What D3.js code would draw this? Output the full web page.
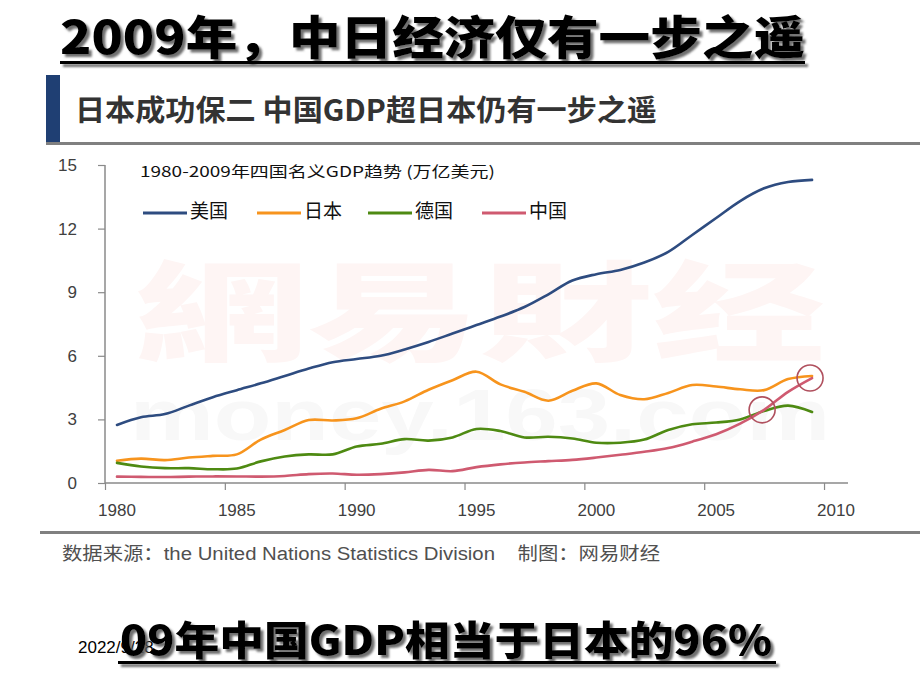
<!DOCTYPE html>
<html><head><meta charset="utf-8">
<script src="https://cdn.jsdelivr.net/npm/d3@7/dist/d3.min.js"></script>
<style>body{margin:0;background:#fff;}svg{display:block;}</style>
</head><body>
<svg id="c" width="920" height="690"></svg>
<script>
// ---- data ----
const years = [1980,1981,1982,1983,1984,1985,1986,1987,1988,1989,1990,1991,1992,1993,1994,1995,1996,1997,1998,1999,2000,2001,2002,2003,2004,2005,2006,2007,2008,2009];
const usa = [2.74,3.1,3.25,3.65,4.05,4.38,4.7,5.05,5.4,5.7,5.85,6.0,6.3,6.65,7.05,7.45,7.85,8.3,8.9,9.55,9.85,10.05,10.4,10.9,11.7,12.5,13.3,13.9,14.2,14.3];
const japan = [1.05,1.15,1.08,1.2,1.28,1.35,2.05,2.5,2.97,2.95,3.05,3.5,3.85,4.4,4.85,5.25,4.65,4.3,3.88,4.35,4.7,4.15,3.95,4.25,4.62,4.55,4.42,4.38,4.9,5.05];
const germany = [0.95,0.78,0.7,0.7,0.65,0.68,1.02,1.25,1.35,1.35,1.72,1.85,2.07,2.0,2.15,2.55,2.45,2.15,2.18,2.1,1.9,1.9,2.05,2.5,2.77,2.85,3.0,3.4,3.65,3.35];
const china = [0.3,0.29,0.28,0.3,0.31,0.31,0.3,0.33,0.42,0.45,0.39,0.42,0.5,0.62,0.56,0.75,0.88,0.97,1.03,1.09,1.2,1.33,1.47,1.65,1.95,2.3,2.8,3.45,4.3,4.95];
const seriesNames = ["美国","日本","德国","中国"];
const seriesColors = ["#2e4c80","#f7941d","#4e8a12","#cf5a70"];
const yTicks = [0,3,6,9,12,15];
const xLabels = [1980,1985,1990,1995,2000,2005,2010];
const xTickMarks = [1979.5,1984.5,1989.5,1994.5,1999.5,2004.5,2009.5];
const highlightYears = [2007,2009];
const titleText = "2009年，中日经济仅有一步之遥";
const subTitleText = "日本成功保二 中国GDP超日本仍有一步之遥";
const chartTitleText = "1980-2009年四国名义GDP趋势 (万亿美元)";
const sourceText = "数据来源：the United Nations Statistics Division    制图：网易财经";
const bottomText = "09年中国GDP相当于日本的96%";
const dateText = "2022/9/28";

const allSeries = [usa, japan, germany, china];

const svg = d3.select("#c");
const defs = svg.append("defs");
defs.append("filter").attr("id","sh").attr("x","-5%").attr("y","-20%").attr("width","110%").attr("height","150%")
  .append("feDropShadow").attr("dx",3).attr("dy",3).attr("stdDeviation",1.2).attr("flood-color","#555").attr("flood-opacity",0.85);

const CJK = "'Noto Sans CJK SC','Noto Sans',sans-serif";

// ---- title ----
const tg = svg.append("g").attr("filter","url(#sh)");
tg.append("text").attr("x",60).attr("y",54).attr("font-family",CJK).attr("font-weight",900)
  .attr("font-size",46).attr("textLength",745).attr("lengthAdjust","spacingAndGlyphs").attr("fill","#000").text(titleText);
tg.append("rect").attr("x",60).attr("y",61).attr("width",745).attr("height",3).attr("fill","#000");

// ---- subtitle block ----
svg.append("rect").attr("x",46).attr("y",75).attr("width",14).attr("height",68).attr("fill","#1f3f73");
svg.append("rect").attr("x",46).attr("y",142).attr("width",874).attr("height",3).attr("fill","#808080");
svg.append("text").attr("x",75).attr("y",121).attr("font-family",CJK).attr("font-weight",600)
  .attr("font-size",29).attr("textLength",582).attr("lengthAdjust","spacingAndGlyphs").attr("fill","#333").text(subTitleText);

// ---- watermark (very faint) ----
svg.append("text").attr("x",135).attr("y",352).attr("font-family",CJK).attr("font-weight",900)
  .attr("font-size",108).attr("textLength",690).attr("lengthAdjust","spacingAndGlyphs").attr("fill","#fef5f4").text("網易財经");
svg.append("text").attr("x",130).attr("y",440).attr("font-family","'Liberation Sans',Arial,sans-serif").attr("font-weight",700)
  .attr("font-size",72).attr("textLength",700).attr("lengthAdjust","spacingAndGlyphs").attr("fill","#f8f8f8").text("money.163.com");

// ---- scales ----
const x = d3.scaleLinear().domain([1979.5,2010.5]).range([105,848]);
const y = d3.scaleLinear().domain([0,15]).range([483,165]);

// axes
const axisColor = "#8a8a8a";
const yAxis = d3.axisLeft(y).tickValues(yTicks).tickSize(7).tickPadding(21).tickFormat(d3.format("d"));
const ya = svg.append("g").attr("transform","translate(105,0)").call(yAxis);
ya.select(".domain").attr("stroke",axisColor).attr("stroke-width",1.5).attr("d","M0,165V483");
ya.selectAll(".tick line").attr("stroke",axisColor).attr("stroke-width",1.2);
ya.selectAll(".tick text").attr("font-family","'Liberation Sans',Arial,sans-serif").attr("font-size",17).attr("fill","#404040");

const xAxis = d3.axisBottom(x).tickValues(xTickMarks).tickSize(7).tickFormat("");
const xa = svg.append("g").attr("transform","translate(0,483)").call(xAxis);
xa.select(".domain").attr("stroke",axisColor).attr("stroke-width",1.5).attr("d","M105,0H848");
xa.selectAll(".tick line").attr("stroke",axisColor).attr("stroke-width",1.2);
svg.append("g").selectAll("text").data(xLabels).join("text")
  .attr("x",d=>x(d)).attr("y",516).attr("text-anchor","middle")
  .attr("font-family","'Liberation Sans',Arial,sans-serif").attr("font-size",17).attr("fill","#404040").text(d=>d);

// ---- chart title & legend ----
svg.append("text").attr("x",140).attr("y",177).attr("font-family",CJK).attr("font-size",15)
  .attr("textLength",355).attr("lengthAdjust","spacingAndGlyphs").attr("fill","#111").text(chartTitleText);
const legendX = [143,257,368,482];
const lg = svg.append("g").selectAll("g").data(seriesNames).join("g")
  .attr("transform",(d,i)=>`translate(${legendX[i]},213)`);
lg.append("line").attr("x1",0).attr("x2",44).attr("y1",0).attr("y2",0)
  .attr("stroke",(d,i)=>seriesColors[i]).attr("stroke-width",3);
lg.append("text").attr("x",47).attr("y",5).attr("font-family",CJK).attr("font-size",19).attr("fill","#111").text(d=>d);

// ---- lines ----
const line = d3.line().x((d,i)=>x(years[i])).y(d=>y(d)).curve(d3.curveCatmullRom.alpha(0.5));
svg.append("g").selectAll("path").data(allSeries).join("path")
  .attr("d",d=>line(d)).attr("fill","none").attr("stroke",(d,i)=>seriesColors[i])
  .attr("stroke-width",2.6).attr("stroke-linejoin","round").attr("stroke-linecap","round");

// highlight circles on China series
svg.append("g").selectAll("circle").data(highlightYears).join("circle")
  .attr("cx",d=>x(d)-2).attr("cy",d=>y(china[years.indexOf(d)]))
  .attr("r",13).attr("fill","none").attr("stroke","#b0505e").attr("stroke-width",1.6);

// ---- source ----
svg.append("rect").attr("x",40).attr("y",531).attr("width",880).attr("height",3).attr("fill","#808080");
svg.append("text").attr("x",62).attr("y",560).attr("xml:space","preserve").style("white-space","pre")
  .attr("font-family","'Liberation Sans Narrow','Liberation Sans',"+CJK).attr("font-size",18)
  .attr("textLength",598).attr("lengthAdjust","spacingAndGlyphs").attr("fill","#505050").text(sourceText);

// ---- bottom ----
svg.append("text").attr("x",78).attr("y",653).attr("font-family","'Liberation Sans',Arial,sans-serif").attr("font-size",17).attr("fill","#000").text(dateText);
const bg = svg.append("g").attr("filter","url(#sh)");
bg.append("text").attr("x",120).attr("y",655).attr("font-family",CJK).attr("font-weight",900)
  .attr("font-size",40).attr("textLength",652).attr("lengthAdjust","spacingAndGlyphs").attr("fill","#000").text(bottomText);
bg.append("rect").attr("x",118).attr("y",661).attr("width",658).attr("height",3).attr("fill","#000");
</script>
</body></html>
